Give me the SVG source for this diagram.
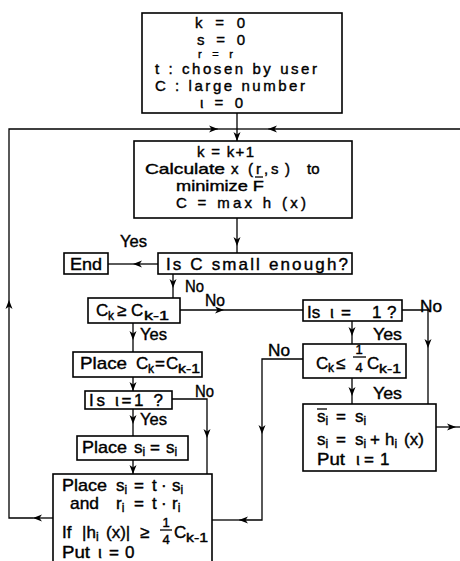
<svg xmlns="http://www.w3.org/2000/svg" width="460" height="561" viewBox="0 0 460 561">
<defs>
<style>
.b{fill:#fff;stroke:#000;stroke-width:1.6}
.c{fill:none;stroke:#000;stroke-width:1.3}
.a{marker-end:url(#ah)}
text{font-family:"Liberation Sans",Arial,sans-serif;font-size:17px;fill:#000;stroke:#000;stroke-width:0.4}
.sm{font-size:12px}
.fr{font-size:13px;text-anchor:middle}
.r11{font-size:11px}
.m15{font-size:15px}
</style>
<marker id="ah" markerUnits="userSpaceOnUse" viewBox="0 0 10 8" markerWidth="10" markerHeight="8" refX="9" refY="4" orient="auto">
<path d="M0,0.5 L9,4 L0,7.5 L2.5,4 Z" fill="#000"/>
</marker>
</defs>
<rect width="460" height="561" fill="#fff"/>

<g id="connectors">
<path class="c a" d="M237,113 V141"/>
<path class="c a" d="M53,518 H33"/>
<path class="c a" d="M33,518 H9 V300"/>
<path class="c a" d="M9,300 V129 H218"/>
<path class="c" d="M218,129 H237"/>
<path class="c a" d="M460,129 H268"/>
<path class="c" d="M268,129 H237"/>
<path class="c a" d="M237,218 V246"/>
<path class="c" d="M237,246 V253"/>
<path class="c a" d="M158,264 H133"/>
<path class="c" d="M133,264 H108"/>
<path class="c a" d="M173,274 V288"/>
<path class="c" d="M173,288 V298"/>
<path class="c a" d="M180,310 H224"/>
<path class="c" d="M224,310 H303"/>
<path class="c a" d="M133,323 V340"/>
<path class="c" d="M133,340 V352"/>
<path class="c a" d="M133,377 V391"/>
<path class="c a" d="M172,399 H207 V438"/>
<path class="c" d="M207,438 V474"/>
<path class="c a" d="M133,409 V424"/>
<path class="c" d="M133,424 V436"/>
<path class="c a" d="M133,460 V474"/>
<path class="c a" d="M352,321 V336"/>
<path class="c" d="M352,336 V344"/>
<path class="c a" d="M402,310 H428 V348"/>
<path class="c" d="M428,348 V404"/>
<path class="c a" d="M352,378 V396"/>
<path class="c" d="M352,396 V404"/>
<path class="c a" d="M303,359 H262 V434"/>
<path class="c a" d="M262,434 V520 H239"/>
<path class="c" d="M239,520 H212"/>
<path class="c a" d="M436,427 H456"/>
<path class="c" d="M456,427 H460"/>
</g>

<g id="labels">
<text x="120" y="247" textLength="27" lengthAdjust="spacingAndGlyphs">Yes</text>
<text x="185" y="292" textLength="19" lengthAdjust="spacingAndGlyphs">No</text>
<text x="205" y="306" textLength="20" lengthAdjust="spacingAndGlyphs">No</text>
<text x="140" y="340" textLength="27" lengthAdjust="spacingAndGlyphs">Yes</text>
<text x="195" y="397" textLength="19" lengthAdjust="spacingAndGlyphs">No</text>
<text x="140" y="425" textLength="27" lengthAdjust="spacingAndGlyphs">Yes</text>
<text x="420" y="312" textLength="22" lengthAdjust="spacingAndGlyphs">No</text>
<text x="373" y="340" textLength="29" lengthAdjust="spacingAndGlyphs">Yes</text>
<text x="268" y="356" textLength="22" lengthAdjust="spacingAndGlyphs">No</text>
<text x="373" y="399" textLength="29" lengthAdjust="spacingAndGlyphs">Yes</text>
</g>

<g id="start">
<rect class="b" x="142" y="13" width="200" height="100"/>
<text class="m15" x="195" y="28" textLength="50">k = 0</text>
<text class="m15" x="197" y="45" textLength="48">s = 0</text>
<text class="r11" x="198" y="58" textLength="35">r = r</text>
<text class="m15" x="155" y="74" textLength="162">t : chosen by user</text>
<text class="m15" x="155" y="91" textLength="150">C : large number</text>
<text class="m15" x="200" y="108" textLength="43">ι = 0</text>
</g>

<g id="update">
<rect class="b" x="134" y="141" width="218" height="77"/>
<text class="m15" x="197" y="157" textLength="57">k = k+1</text>
<text class="m15" y="174"><tspan x="145" textLength="80" lengthAdjust="spacingAndGlyphs">Calculate</tspan><tspan x="231">x</tspan><tspan x="248">(</tspan><tspan x="256">r</tspan><tspan x="264">,</tspan><tspan x="271">s</tspan><tspan x="285">)</tspan><tspan x="307">to</tspan></text>
<path class="c" d="M255,177 H263"/>
<text class="m15" x="176" y="191" textLength="88" lengthAdjust="spacingAndGlyphs">minimize F</text>
<text class="m15" x="176" y="208" textLength="130">C = max h (x)</text>
</g>

<g id="test-c">
<rect class="b" x="158" y="253" width="194" height="21"/>
<text x="166" y="270" textLength="182">Is C small enough?</text>
</g>

<g id="end">
<rect class="b" x="64" y="253" width="44" height="21"/>
<text x="70" y="270" textLength="32" lengthAdjust="spacingAndGlyphs">End</text>
</g>

<g id="ck-ge">
<rect class="b" x="88" y="298" width="92" height="25"/>
<text y="316"><tspan x="96">C</tspan><tspan class="sm" x="108" dy="4">k</tspan><tspan x="117" dy="-4">≥</tspan><tspan x="131">C</tspan><tspan class="sm" x="144" dy="4" textLength="25" lengthAdjust="spacingAndGlyphs">k-1</tspan></text>
</g>

<g id="place-c">
<rect class="b" x="73" y="352" width="129" height="25"/>
<text y="369"><tspan x="80" textLength="47" lengthAdjust="spacingAndGlyphs">Place</tspan><tspan x="136">C</tspan><tspan class="sm" x="148" dy="4">k</tspan><tspan x="155" dy="-4">=</tspan><tspan x="166">C</tspan><tspan class="sm" x="178" dy="4" textLength="22" lengthAdjust="spacingAndGlyphs">k-1</tspan></text>
</g>

<g id="is-iota-left">
<rect class="b" x="85" y="391" width="87" height="18"/>
<text x="89" y="406" textLength="74">Is ι=1 ?</text>
</g>

<g id="place-s">
<rect class="b" x="77" y="436" width="111" height="24"/>
<text y="453"><tspan x="82" textLength="45" lengthAdjust="spacingAndGlyphs">Place</tspan><tspan x="134">s</tspan><tspan class="sm" dy="3">i</tspan><tspan x="150" dy="-3">=</tspan><tspan x="166">s</tspan><tspan class="sm" dy="3">i</tspan></text>
</g>

<g id="update-s">
<rect class="b" x="53" y="474" width="159" height="95"/>
<text y="491"><tspan x="62" textLength="45" lengthAdjust="spacingAndGlyphs">Place</tspan><tspan x="116">s</tspan><tspan class="sm" dy="3">i</tspan><tspan x="134" dy="-3">=</tspan><tspan x="152">t</tspan><tspan x="161">·</tspan><tspan x="172">s</tspan><tspan class="sm" dy="3">i</tspan></text>
<text y="509"><tspan x="70" textLength="29" lengthAdjust="spacingAndGlyphs">and</tspan><tspan x="116">r</tspan><tspan class="sm" dy="3">i</tspan><tspan x="134" dy="-3">=</tspan><tspan x="152">t</tspan><tspan x="161">·</tspan><tspan x="172">r</tspan><tspan class="sm" dy="3">i</tspan></text>
<text y="538"><tspan x="62">If</tspan><tspan x="82">|h</tspan><tspan class="sm" dy="3">i</tspan><tspan x="106" dy="-3">(x)|</tspan><tspan x="140">≥</tspan></text>
<text class="fr" x="166" y="527">1</text>
<path class="c" d="M160,530 H172"/>
<text class="fr" x="166" y="544">4</text>
<text y="538"><tspan x="174">C</tspan><tspan class="sm" x="186" dy="4" textLength="22" lengthAdjust="spacingAndGlyphs">k-1</tspan></text>
<text y="558"><tspan x="62" textLength="28" lengthAdjust="spacingAndGlyphs">Put</tspan><tspan x="98">ι</tspan><tspan x="109">=</tspan><tspan x="125">0</tspan></text>
</g>

<g id="is-iota-right">
<rect class="b" x="303" y="300" width="99" height="21"/>
<text y="318"><tspan x="307">Is</tspan><tspan x="330">ι</tspan><tspan x="341">=</tspan><tspan x="372">1</tspan><tspan x="387">?</tspan></text>
</g>

<g id="ck-le">
<rect class="b" x="303" y="344" width="103" height="34"/>
<text y="369"><tspan x="316">C</tspan><tspan class="sm" x="328" dy="3">k</tspan><tspan x="336" dy="-3">≤</tspan></text>
<text class="fr" x="359" y="354">1</text>
<path class="c" d="M353,357 H366"/>
<text class="fr" x="359" y="372">4</text>
<text y="369"><tspan x="367">C</tspan><tspan class="sm" x="379" dy="4" textLength="22" lengthAdjust="spacingAndGlyphs">k-1</tspan></text>
</g>

<g id="increase-s">
<rect class="b" x="303" y="404" width="133" height="67"/>
<text y="422"><tspan x="317">s</tspan><tspan class="sm" dy="3">i</tspan><tspan x="336" dy="-3">=</tspan><tspan x="355">s</tspan><tspan class="sm" dy="3">i</tspan></text>
<path class="c" d="M317,409 H327"/>
<text y="445"><tspan x="317">s</tspan><tspan class="sm" dy="3">i</tspan><tspan x="336" dy="-3">=</tspan><tspan x="355">s</tspan><tspan class="sm" dy="3">i</tspan><tspan x="370" dy="-3">+</tspan><tspan x="385">h</tspan><tspan class="sm" dy="3">i</tspan><tspan x="404" dy="-3">(x)</tspan></text>
<text y="465"><tspan x="317" textLength="28" lengthAdjust="spacingAndGlyphs">Put</tspan><tspan x="356">ι</tspan><tspan x="364">=</tspan><tspan x="380">1</tspan></text>
</g>
</svg>
